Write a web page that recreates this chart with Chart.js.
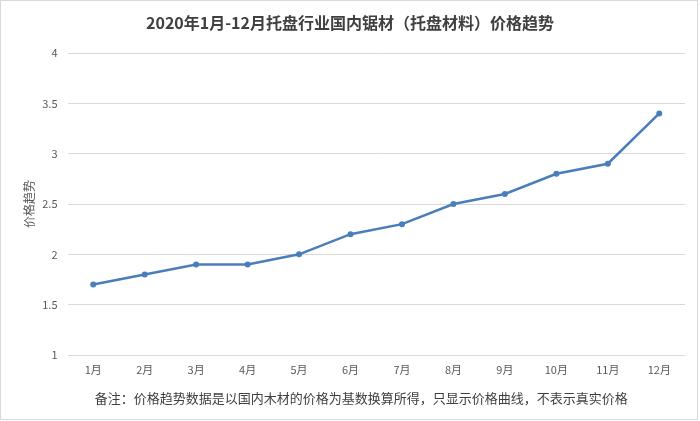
<!DOCTYPE html>
<html>
<head>
<meta charset="utf-8">
<script src="https://cdn.jsdelivr.net/npm/chart.js@4/dist/chart.umd.min.js"></script>
<style>
html,body{margin:0;padding:0;background:#fff;}
#wrap{width:700px;height:421px;position:relative;}
</style>
</head>
<body>
<div id="wrap"><canvas id="c" width="700" height="421"></canvas></div>
<script>
const titleText = '2020年1月-12月托盘行业国内锯材（托盘材料）价格趋势';
const noteText = '备注：价格趋势数据是以国内木材的价格为基数换算所得，只显示价格曲线，不表示真实价格';
const yAxisTitle = '价格趋势';
const categories = ['1月','2月','3月','4月','5月','6月','7月','8月','9月','10月','11月','12月'];
const priceTrend = [1.7, 1.8, 1.9, 1.9, 2.0, 2.2, 2.3, 2.5, 2.6, 2.8, 2.9, 3.4];
const yMin = 1, yMax = 4, yStep = 0.5;

const FONT = '"Noto Sans CJK SC", "Microsoft YaHei", sans-serif';

const decor = {
  id: 'decor',
  beforeDraw(chart) {
    const ctx = chart.ctx;
    ctx.save();
    ctx.fillStyle = '#fff';
    ctx.fillRect(0, 0, chart.width, chart.height);
    ctx.restore();
  },
  afterDraw(chart) {
    const ctx = chart.ctx;
    const a = chart.chartArea;
    ctx.save();
    ctx.strokeStyle = '#d9d9d9';
    ctx.lineWidth = 1;
    ctx.strokeRect(0.5, 0.5, chart.width - 3, chart.height - 2);
    ctx.fillStyle = '#404040';
    ctx.textAlign = 'center';
    ctx.textBaseline = 'middle';
    ctx.font = 'bold 16px ' + FONT;
    ctx.fillText(titleText, chart.width / 2, 23);
    ctx.font = '13px ' + FONT;
    ctx.fillStyle = '#404040';
    ctx.fillText(noteText, (a.left + a.right) / 2 - 15, 398);
    ctx.restore();
  }
};

new Chart(document.getElementById('c'), {
  type: 'line',
  data: {
    labels: categories,
    datasets: [{
      data: priceTrend,
      borderColor: '#4a7ebb',
      backgroundColor: '#4a7ebb',
      borderWidth: 2.5,
      pointRadius: 3,
      pointHoverRadius: 3,
      pointBackgroundColor: '#4a7ebb',
      pointBorderWidth: 0,
      tension: 0,
      fill: false
    }]
  },
  options: {
    responsive: false,
    animation: false,
    devicePixelRatio: 1,
    layout: { padding: { top: 53, right: 15, bottom: 0, left: 0 } },
    plugins: {
      legend: { display: false },
      tooltip: { enabled: false },
      title: { display: false }
    },
    scales: {
      x: {
        type: 'category',
        offset: true,
        grid: { display: false, drawTicks: false },
        border: { display: false },
        ticks: {
          color: '#595959',
          font: { family: FONT, size: 11 },
          padding: 8,
          maxRotation: 0,
          autoSkip: false
        },
        afterFit(scale) { scale.height = 66; }
      },
      y: {
        min: yMin,
        max: yMax,
        grid: { color: '#d9d9d9', lineWidth: 1, drawTicks: false },
        border: { display: false },
        ticks: {
          stepSize: yStep,
          color: '#595959',
          font: { family: FONT, size: 11 },
          padding: 10,
          callback: (v) => String(+v)
        },
        title: {
          display: true,
          text: yAxisTitle,
          color: '#595959',
          font: { family: FONT, size: 12 },
          padding: { top: 22, bottom: 0 }
        },
        afterFit(scale) { scale.width = 67.5; }
      }
    }
  },
  plugins: [decor]
});
</script>
</body>
</html>
